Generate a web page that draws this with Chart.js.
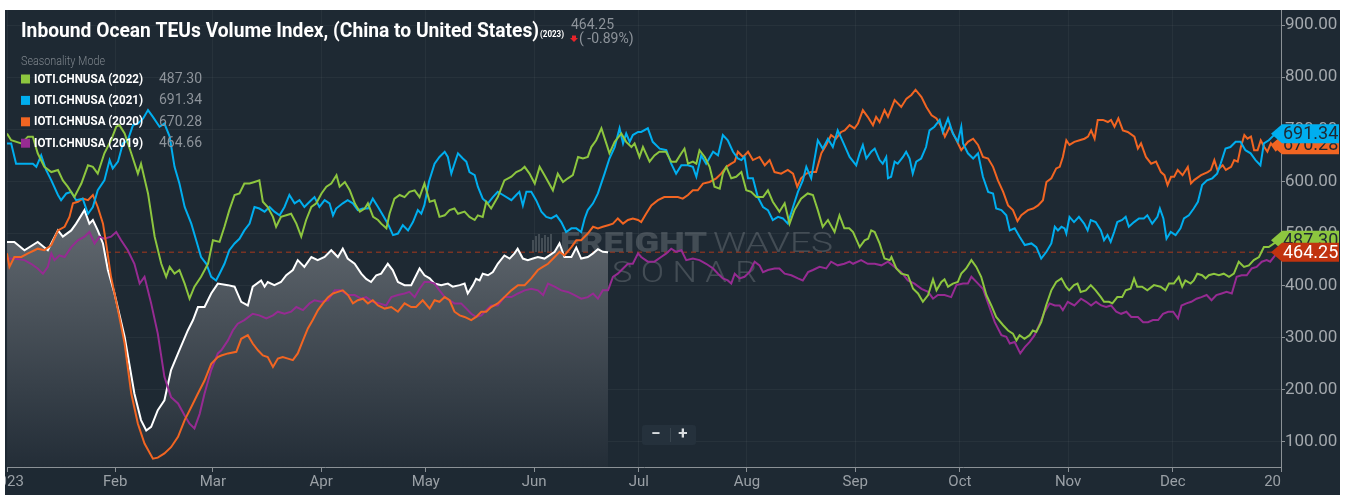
<!DOCTYPE html>
<html>
<head>
<meta charset="utf-8">
<script src="https://cdn.jsdelivr.net/npm/chart.js@4.4.0/dist/chart.umd.min.js"></script>
<style>
html,body{margin:0;padding:0;background:#fff;}
#box{position:absolute;left:5px;top:10px;width:1335px;height:485px;background:#1e2933;}
</style>
</head>
<body>
<div id="box"><canvas id="chart"></canvas></div>
<script>
// day of year (0 = Jan 1) and index value
const monthTicks = [0,31,59,90,120,151,181,212,243,273,304,334,365];
const monthLabels = ['2023','Feb','Mar','Apr','May','Jun','Jul','Aug','Sep','Oct','Nov','Dec','2024'];
const yTicks = [100,200,300,400,500,600,700,800,900];
const seriesNames = ['IOTI.CHNUSA (2022)','IOTI.CHNUSA (2021)','IOTI.CHNUSA (2020)','IOTI.CHNUSA (2019)'];
const changePct = -0.89;

const series2023 = [[0,484],[2.1,484],[5,468],[8.8,484],[11.7,468],[14.6,506],[16,494],[18.4,506],[19.8,519],[22.2,545],[23.6,519],[24.6,526],[26,506],[27.5,481],[28.9,430],[30.8,385],[33.7,302],[36.5,193],[38.4,142],[39.9,122],[41.3,129],[43.2,161],[45.1,180],[47,238],[49,270],[51.8,314],[53.3,334],[54.7,359],[56.6,359],[58.5,385],[60.4,404],[63.3,401],[65.2,398],[67.1,369],[69,362],[70.4,398],[72.8,410],[73.8,398],[74.7,407],[76.6,401],[78.5,407],[80,420],[81.9,430],[83.3,449],[85.2,436],[87.2,455],[89,449],[91,455],[92.9,468],[94.8,455],[96.2,471],[97.6,452],[99.6,442],[101.5,423],[102.9,413],[104.3,407],[105.8,420],[107.2,423],[109.1,442],[110.5,430],[112,407],[113.9,401],[115.8,401],[118.2,433],[119.6,420],[121.1,414],[122.5,404],[124.4,401],[126.3,404],[127.7,398],[129.7,401],[131.1,404],[132,385],[133.5,401],[134.4,413],[135.4,410],[136.3,423],[137.8,420],[139.2,426],[140.6,442],[142.5,458],[144,452],[145.4,462],[146.3,471],[147.8,452],[149.2,449],[150.7,452],[152.1,455],[154,452],[155.4,458],[156.9,465],[158.3,481],[159.7,455],[161.7,455],[163.1,473],[164.5,452],[166.4,455],[167.9,462],[169.3,470],[170.7,465],[172.2,464.25]];

const series2022 = [[0,692],[1.2,679],[4.1,673],[6,686],[7.4,686],[8.8,654],[10.7,628],[12.7,618],[14.6,622],[16,602],[17.4,590],[19.3,570],[21.3,596],[23.2,631],[24.6,628],[26,615],[27.9,654],[29.8,679],[31.3,705],[32.2,708],[33.7,692],[35.6,654],[37.5,615],[38.4,634],[40.4,577],[42.3,494],[44.2,442],[45.6,417],[46.6,436],[48,423],[49.4,430],[50.9,404],[52.3,375],[53.7,398],[55.6,417],[57.6,442],[59,487],[60.9,484],[62.3,513],[63.7,545],[65.2,574],[66.6,577],[68,596],[69.5,596],[70.9,599],[72.3,602],[73.3,561],[74.7,551],[76.2,532],[77.1,513],[78.5,532],[80,535],[81.4,538],[82.9,519],[84.3,494],[85.7,526],[87.2,551],[88.6,558],[90.1,577],[91.5,590],[92.9,596],[94.4,612],[95.3,590],[96.8,599],[98.2,583],[99.7,557],[101.1,542],[102.5,548],[103.4,558],[104.9,532],[106.3,526],[107.2,519],[108.7,510],[109.6,538],[111,567],[112.5,574],[113.9,570],[115.3,580],[116.8,583],[118.2,570],[119.6,596],[121.1,561],[122.5,564],[123.9,532],[125.4,535],[126.8,545],[128.2,548],[129.2,538],[131.1,542],[132.5,532],[134,526],[134.9,535],[136.3,532],[137.3,561],[138.7,548],[140.6,570],[142.5,602],[144.5,609],[145.9,618],[147.3,622],[148.3,628],[149.7,615],[151.2,596],[152.6,628],[154,612],[156.4,583],[157.8,615],[159.3,599],[160.7,606],[162.1,612],[163.6,647],[165,644],[166.4,647],[167.4,666],[168.8,679],[170.3,702],[171.7,673],[172.6,654],[174.1,676],[176,692],[177.4,676],[178.9,666],[179.8,673],[181.2,647],[182.2,666],[184.1,638],[185.5,650],[186.9,657],[188.8,657],[190.3,638],[191.7,638],[193.2,654],[194.1,663],[195.1,634],[196.5,638],[197.5,634],[198.4,660],[199.9,647],[201.3,628],[202.7,590],[204.2,586],[205.1,615],[206.1,628],[207.5,606],[208.9,609],[210.4,618],[211.8,583],[213.2,580],[214.7,570],[216.6,570],[218,583],[219.4,561],[221.3,542],[222.8,558],[224.2,519],[225.6,545],[227.5,567],[229.4,577],[230.9,574],[232.3,545],[233.7,513],[235.2,526],[237.1,503],[238.5,535],[239.9,510],[241.3,510],[242.4,503],[244.3,474],[245.7,487],[246.7,490],[247.6,506],[248.6,503],[250,481],[251.4,452],[252.9,449],[253.4,455],[254.8,433],[256.2,423],[258.1,420],[259.6,394],[261,385],[262.4,369],[263.9,382],[265.3,412],[266.3,391],[267.7,407],[268.6,412],[269.6,398],[271,404],[272.4,407],[273.4,423],[274.8,433],[276.3,449],[277.7,436],[279.1,417],[280.6,382],[282,362],[283.4,340],[285.4,324],[286.8,314],[288.2,308],[289.2,295],[290.1,305],[291.5,298],[293,305],[293.9,314],[294.9,311],[296.3,330],[297.7,362],[299.2,391],[300.6,407],[302.1,414],[303.4,398],[304.3,391],[305.7,401],[306.7,404],[307.6,388],[309.1,391],[310.5,401],[311.9,391],[313.4,378],[314.3,369],[315.7,369],[316.7,366],[318.1,378],[319.5,378],[320.5,391],[321.9,394],[322.9,414],[323.8,398],[325.2,398],[326.7,391],[328.6,401],[330.5,398],[331.9,391],[332.9,404],[334.3,404],[335.7,417],[336.7,398],[337.6,410],[339.1,404],[340,410],[341,423],[342.4,420],[343.4,414],[344.3,420],[345.8,423],[347.2,420],[348.6,423],[350.1,417],[351.5,423],[352.9,446],[354.4,436],[355.8,439],[357.2,449],[358.7,455],[360.1,474],[361.5,474],[363,481],[365,487.30]];

const series2021 = [[0,673],[1.2,673],[2.6,634],[5,634],[7.4,634],[8.4,628],[9.8,650],[11.2,622],[12.7,602],[14.6,574],[15.5,564],[17,577],[18.4,580],[19.8,564],[21.7,567],[23.2,538],[24.6,551],[26,583],[27.9,602],[29.4,641],[30.3,625],[31.8,638],[33.2,673],[34.6,679],[36.1,708],[37.5,711],[39,721],[40.4,737],[41.8,724],[43.7,705],[45.1,711],[46.6,686],[48,628],[49.4,596],[50.9,551],[52.8,519],[54.2,487],[55.6,455],[57.1,442],[58.5,417],[59.9,410],[60.9,423],[62.3,442],[63.7,468],[65.2,481],[66.6,490],[68,506],[69.5,519],[70.9,551],[72.3,548],[73.8,542],[75.2,551],[76.6,542],[78.1,535],[79.5,551],[80.9,574],[82.4,558],[83.8,564],[85.2,551],[86.7,561],[88.1,570],[89.5,551],[91,564],[92.4,558],[93.4,535],[94.3,548],[96.2,558],[97.6,564],[99.1,558],[100.5,545],[101.9,548],[103.4,548],[104.8,567],[106.3,551],[107.7,535],[109.1,519],[110.6,497],[112,500],[113.4,516],[114.9,506],[116.3,522],[117.7,545],[118.7,538],[119.6,555],[120.9,600],[122.5,634],[123.9,647],[125.4,657],[126.3,647],[127.3,615],[128.2,634],[129.2,654],[130.6,644],[131.6,638],[132.5,618],[134,612],[134.9,590],[136.3,567],[137.8,558],[139.2,570],[140.6,580],[142.1,574],[144.5,564],[145.9,574],[146.8,580],[147.8,554],[148.8,580],[150.2,580],[151.6,564],[153.1,542],[154.5,532],[155.9,529],[157.4,535],[158.8,522],[160.2,503],[161.7,510],[163.1,510],[164.5,503],[165.5,529],[166.4,545],[167.9,558],[169.3,577],[171.2,615],[172.6,644],[174.1,666],[175.5,702],[176.5,673],[177.4,692],[178.4,676],[179.3,689],[180.8,695],[181.7,695],[183.6,702],[185,676],[187,663],[188.9,660],[190.3,634],[191.7,615],[193.2,631],[195.1,631],[196.5,628],[197.5,609],[198.9,650],[200.3,634],[202.3,657],[203.7,650],[205.1,689],[206.5,679],[208,657],[209.4,644],[210.4,641],[211.3,647],[212.3,606],[213.7,606],[215.1,570],[216.6,551],[218,545],[219.4,526],[220.9,532],[222.3,529],[223.7,519],[225.2,551],[226.6,580],[228,602],[229,628],[230.4,606],[232.3,679],[233.7,663],[235.2,682],[236.6,666],[238,698],[239.5,676],[241.4,647],[243.3,631],[244.3,654],[245.2,670],[246.2,644],[247.6,657],[248.6,663],[250,641],[250.9,634],[251.9,647],[252.4,606],[253.3,609],[254.3,638],[255.2,634],[256.7,647],[257.6,657],[258.6,644],[259.5,615],[260.5,638],[261.9,644],[263.3,666],[264.3,698],[265.7,705],[267.2,718],[268.1,695],[269.6,721],[271,692],[272.4,676],[273.4,705],[273.9,673],[275.3,654],[276.8,644],[278.2,654],[279.6,609],[281.1,580],[282.5,577],[283.4,548],[284.9,545],[286.3,535],[287.3,506],[288.7,510],[290.1,494],[291.6,478],[293.5,481],[294.9,474],[296.3,452],[297.8,465],[299.2,481],[300.2,513],[301.1,506],[302.1,513],[303,510],[303.5,500],[304.4,532],[305.7,522],[307.1,532],[308.6,519],[309.6,506],[310.5,526],[311.9,522],[313.4,506],[314.3,487],[315.3,497],[316.2,484],[317.2,503],[318.1,522],[319.5,526],[320.5,532],[321.4,513],[322.9,522],[324.3,529],[325.7,529],[326.7,535],[328.1,519],[329.6,532],[330.3,548],[331.3,529],[332.2,490],[333.4,503],[334.8,497],[336.2,510],[337.2,529],[338.6,535],[340,548],[341.2,561],[342.4,593],[343.8,602],[345.3,606],[346.7,615],[347.7,634],[349.1,663],[350.5,666],[352,676],[353.4,676],[354.8,660],[356.3,654],[357.7,641],[359.1,631],[360.1,673],[361.5,679],[363,689],[365,691.34]];

const series2020 = [[0,462],[0.7,436],[2.1,455],[4.1,455],[6,462],[7.9,468],[8.8,471],[10.7,468],[12.7,478],[14.6,506],[16.5,513],[17.9,532],[18.9,558],[20.3,561],[21.7,567],[23.2,564],[24.6,574],[26,551],[27.5,519],[28.4,481],[29.8,417],[31.8,353],[33.7,289],[35.6,193],[37.5,135],[39.4,97],[41.8,68],[43.2,70],[45.1,78],[47,90],[49,110],[50.9,142],[52.8,167],[54.7,193],[56.6,218],[58.5,250],[60.4,263],[61.4,266],[63.3,270],[65.7,273],[67.1,298],[69,305],[70.4,289],[71.9,276],[73.3,266],[74.7,263],[76.2,244],[77.6,260],[79,263],[80.5,260],[81.9,257],[83.3,270],[84.8,295],[86.2,318],[87.6,334],[89.1,353],[90.5,366],[92,378],[93.4,385],[94.8,388],[96.2,391],[97.7,382],[99.1,366],[100.5,372],[102,375],[103.4,366],[104.8,372],[106.3,362],[108.2,356],[110.1,359],[112,350],[113.9,366],[115.8,359],[117.2,359],[119.1,372],[121.1,356],[122.5,372],[123.9,369],[125.4,378],[126.8,372],[128.2,350],[129.7,343],[131.1,340],[133,334],[134.4,340],[135.9,350],[137.3,350],[138.7,359],[140.6,366],[142.5,378],[144.5,391],[146.4,401],[148.3,401],[150.2,414],[152.1,430],[153.5,436],[155,442],[156.9,455],[158.3,465],[159.7,458],[161.7,474],[163.1,487],[164.5,487],[166.4,500],[167.9,513],[169.3,510],[170.7,513],[172.2,516],[173.6,519],[175,529],[176.5,519],[177.9,526],[179.3,529],[180.8,526],[181.7,522],[183.1,538],[184.6,554],[186.5,564],[188.3,570],[190.3,570],[192.2,570],[193.6,567],[195.1,574],[196.5,583],[197.9,583],[199.4,596],[201.3,599],[203.2,606],[204.6,615],[206.1,628],[207.5,634],[208.5,638],[209.4,657],[210.9,647],[212.3,657],[213.7,641],[215.6,647],[217.1,631],[218.5,641],[219.9,618],[221.8,615],[223.7,622],[225.2,615],[226.4,590],[227.5,606],[229,615],[230.4,618],[231.8,618],[233.3,654],[234.7,670],[236.1,689],[237.5,682],[239,695],[240,698],[241.4,708],[242.8,702],[243.8,711],[245.2,737],[246.6,724],[248.1,708],[249,724],[250,714],[251.4,737],[252.4,724],[254.3,756],[256.2,743],[257.7,759],[259.1,766],[260.3,776],[262,762],[263.4,743],[264.9,727],[266.3,721],[267.7,705],[268.7,686],[270.1,705],[271.5,686],[273.4,660],[275.3,676],[276.8,682],[278.2,670],[279.6,647],[281.1,644],[282.5,628],[283.9,602],[285.4,580],[286.8,554],[288.2,545],[289.5,524],[290.6,535],[292.5,545],[294,548],[295.4,554],[296.8,564],[297.8,599],[299.2,606],[300.6,625],[301.6,628],[302.5,647],[303.5,679],[304.4,670],[305.8,676],[307.3,679],[308.7,682],[309.7,686],[310.6,698],[311.6,682],[312.5,718],[314,718],[315.4,714],[316.3,718],[317.3,705],[318.4,721],[319.7,698],[321.1,695],[323,686],[324,663],[324.9,673],[326.3,647],[327.8,634],[329.2,638],[330.6,618],[331.6,612],[332.5,593],[333.5,609],[334.4,609],[335.4,622],[336.8,612],[338.3,628],[339.2,596],[340.2,603],[342.1,612],[344,618],[344.9,622],[345.9,641],[346.8,622],[348.3,631],[349.2,622],[350.7,628],[351.6,641],[352.6,638],[353.5,666],[354.5,689],[355.4,682],[356.4,686],[357.3,660],[358.3,660],[359.2,679],[360.2,666],[361.1,657],[362.1,673],[363.5,660],[365,670.28]];

const series2019 = [[0,452],[2.1,452],[5,449],[6.9,442],[8.8,433],[10.3,423],[11.7,436],[12.7,462],[13.6,449],[15,458],[16.5,455],[18.4,474],[20.3,487],[22.2,494],[23.6,503],[25.1,481],[26.5,494],[27.9,490],[29.8,494],[31.3,503],[32.7,487],[34.6,468],[36.5,442],[38,404],[39.4,417],[41.3,366],[43.2,308],[45.1,225],[47,186],[49,174],[50.9,151],[52.3,135],[53.7,126],[55.2,154],[56.6,193],[58.5,238],[60.4,270],[61.4,276],[63.3,295],[64.7,314],[66.1,327],[68,334],[70.4,346],[72.3,343],[74.3,337],[76.2,343],[77.6,350],[79.5,346],[81.4,350],[82.9,359],[84.8,353],[86.7,366],[88.1,372],[90,369],[92,372],[93.9,391],[95.7,391],[97.6,382],[99.6,382],[101.5,375],[102.9,378],[104.8,369],[106.7,366],[108.6,362],[110.1,378],[112,382],[113.9,385],[115.3,388],[116.8,378],[118.2,394],[119.6,407],[121.1,407],[122.5,404],[123.9,391],[125.4,378],[126.8,372],[128.2,366],[130.1,366],[131.6,356],[133,346],[134.4,340],[135.9,343],[137.3,353],[138.7,362],[140.6,362],[142.5,378],[144.5,378],[146.4,385],[148.3,391],[150.2,394],[152.1,391],[153.6,382],[155,404],[156.9,398],[158.8,391],[160.7,388],[162.6,382],[164.5,375],[166.4,378],[167.9,385],[169.3,375],[170.7,391],[172.2,391],[173.6,417],[175,423],[176.5,433],[177.9,442],[179.3,442],[180.8,462],[181.7,455],[183.6,446],[185.5,446],[187.4,455],[188.9,462],[190.3,471],[191.7,465],[193.2,468],[194.6,449],[196.5,452],[198.4,449],[200.3,442],[202.3,433],[203.7,423],[205.1,414],[206.5,410],[207.5,404],[208.5,423],[209.9,414],[211.3,417],[212.7,426],[214.2,446],[215.6,439],[216.6,426],[218,430],[219.9,433],[221.3,433],[222.8,423],[224.7,420],[226.6,414],[228,410],[229.5,426],[230.9,430],[232.8,436],[234.7,433],[236.1,446],[238,439],[239.9,442],[241.4,446],[242.4,442],[244.7,449],[246.6,442],[248.6,442],[250.5,439],[252.4,446],[254.3,436],[256.2,426],[258.1,410],[260,404],[262,394],[263.9,388],[265.3,375],[266.7,382],[268.6,382],[270.5,378],[272,401],[273.9,404],[275.3,404],[276.3,417],[278.2,404],[279.6,394],[281.1,366],[283,330],[284.9,305],[286.3,302],[287.3,289],[288.7,292],[290.3,270],[291.6,282],[293,292],[294.4,305],[295.9,327],[297.3,350],[298.7,366],[300.2,362],[301.6,362],[302.5,353],[303.9,369],[305.8,362],[307.7,375],[309.2,369],[310.6,362],[312,369],[313.5,362],[314.9,359],[316.3,362],[317.8,350],[319.2,346],[320.7,350],[322.1,340],[324,340],[325.5,330],[326.9,330],[328.3,334],[329.8,334],[331.2,346],[332.7,350],[334.1,350],[335.5,337],[336.5,362],[337.9,366],[339.3,369],[340.8,375],[342.2,378],[343.7,382],[345.1,372],[346.5,382],[348,385],[349.4,388],[350.9,385],[352.3,417],[353.7,420],[355.2,420],[356.6,433],[358,436],[359.5,446],[360.9,449],[361.9,446],[363.3,458],[365,464.66]];

const GREEN = '#8dc63f', BLUE = '#00aeef', ORANGE = '#f26522', PURPLE = '#962b92', TAGRED = '#c1330f';
const BG = '#1e2933';

const toXY = s => s.map(p => ({x: p[0], y: p[1]}));
const lastOf = s => s[s.length - 1][1];

function fitText(ctx, text, x, y, w){
    const m = ctx.measureText(text).width;
    ctx.save();
    ctx.translate(x, y);
    ctx.scale(w / m, 1);
    ctx.fillText(text, 0, 0);
    ctx.restore();
}

const decor = {
    id: 'decor',
    beforeDatasetsDraw(chart){
        const ctx = chart.ctx, a = chart.chartArea, ys = chart.scales.y;
        ctx.save();
        // watermark
        ctx.fillStyle = 'rgba(255,255,255,0.17)';
        [[0,6],[3,2],[6,0],[9,4],[12,1],[15,3],[18,0]].forEach(b => ctx.fillRect(527 + b[0], 224 + b[1], 2, 18 - b[1]));
        ctx.textBaseline = 'alphabetic'; ctx.textAlign = 'left';
        ctx.font = '900 27px Roboto';
        fitText(ctx, 'FREIGHT', 555, 242, 147);
        ctx.font = '300 27px Roboto';
        fitText(ctx, 'WAVES', 708, 242, 120);
        ctx.font = '300 29px Roboto';
        fitText(ctx, 'S O N A R', 607, 272, 145);
        // current value line
        const y = ys.getPixelForValue(lastOf(series2023));
        ctx.strokeStyle = '#a8391d'; ctx.lineWidth = 1; ctx.setLineDash([5,4]);
        ctx.beginPath(); ctx.moveTo(a.left, y); ctx.lineTo(a.right, y); ctx.stroke();
        ctx.restore();
    },
    afterDraw(chart){
        const ctx = chart.ctx, a = chart.chartArea, xs = chart.scales.x, ys = chart.scales.y;
        ctx.save();
        // x labels, clipped at the axis end
        ctx.save();
        ctx.beginPath(); ctx.rect(0, a.bottom, a.right, chart.height - a.bottom); ctx.clip();
        ctx.font = '15px Roboto'; ctx.fillStyle = '#9aa0a6';
        ctx.textAlign = 'center'; ctx.textBaseline = 'middle';
        monthTicks.forEach((t, i) => ctx.fillText(monthLabels[i], xs.getPixelForValue(t), a.bottom + 15));
        ctx.restore();

        // title block
        ctx.textAlign = 'left'; ctx.textBaseline = 'alphabetic';
        ctx.fillStyle = '#ffffff';
        ctx.font = 'bold 20px Roboto';
        fitText(ctx, 'Inbound Ocean TEUs Volume Index, (China to United States)', 16, 27, 518);
        ctx.font = 'bold 9px Roboto';
        fitText(ctx, '(2023)', 535, 27, 24);
        ctx.fillStyle = '#8d939a';
        ctx.font = '14px Roboto';
        ctx.fillText(lastOf(series2023).toFixed(2), 566, 19);
        ctx.fillText('( ' + changePct.toFixed(2) + '%)', 574, 33);
        ctx.fillStyle = '#e8242b';
        ctx.beginPath(); ctx.moveTo(567, 25.5); ctx.lineTo(571, 25.5); ctx.lineTo(571, 28); ctx.lineTo(573, 28);
        ctx.lineTo(569, 32); ctx.lineTo(565, 28); ctx.lineTo(567, 28); ctx.closePath(); ctx.fill();

        // legend
        ctx.fillStyle = '#7f868d';
        ctx.font = '300 12px Roboto';
        fitText(ctx, 'Seasonality Mode', 16, 55, 84);
        const legend = [[series2022, GREEN], [series2021, BLUE], [series2020, ORANGE], [series2019, PURPLE]];
        ctx.textBaseline = 'middle';
        legend.forEach((row, i) => {
            const cy = 69 + i * 21.4;
            ctx.fillStyle = row[1];
            ctx.fillRect(16, cy - 4.5, 9, 9);
            ctx.fillStyle = '#ffffff';
            ctx.font = 'bold 12px Roboto';
            fitText(ctx, seriesNames[i], 29, cy + 0.5, 109);
            ctx.fillStyle = '#8d939a';
            ctx.font = '14px Roboto';
            ctx.fillText(lastOf(row[0]).toFixed(2), 154, cy + 0.5);
        });

        // last value tags on the axis
        const tags = [[series2020, ORANGE, BG], [series2021, BLUE, BG], [series2022, GREEN, BG], [series2023, TAGRED, '#ffffff']];
        tags.forEach(t => {
            const v = lastOf(t[0]), y = ys.getPixelForValue(v);
            const x0 = a.right - 10, x1 = a.right + 1, x2 = chart.width - 1, h = 9.5;
            ctx.fillStyle = t[1];
            ctx.beginPath();
            ctx.moveTo(x0, y); ctx.lineTo(x1, y - h); ctx.lineTo(x2, y - h);
            ctx.lineTo(x2, y + h); ctx.lineTo(x1, y + h); ctx.closePath(); ctx.fill();
            ctx.fillStyle = t[2];
            ctx.font = '18px Roboto'; ctx.textAlign = 'left'; ctx.textBaseline = 'middle';
            ctx.fillText(v.toFixed(2), a.right + 2, y + 1);
        });

        // zoom buttons
        ctx.fillStyle = '#25313c';
        ctx.beginPath(); ctx.roundRect(637, 415, 54, 20, 3); ctx.fill();
        ctx.strokeStyle = '#3a4650'; ctx.lineWidth = 1;
        ctx.beginPath(); ctx.moveTo(665.5, 418); ctx.lineTo(665.5, 432); ctx.stroke();
        ctx.fillStyle = '#d8dcdf'; ctx.font = 'bold 17px Roboto'; ctx.textAlign = 'center'; ctx.textBaseline = 'middle';
        ctx.fillText('\u2212', 651, 425);
        ctx.fillText('+', 678, 425);
        ctx.restore();
    }
};

function fill2023(c){
    const ch = c.chart, a = ch.chartArea;
    if(!a) return 'rgba(0,0,0,0)';
    const g = ch.ctx.createLinearGradient(0, ch.scales.y.getPixelForValue(500), 0, a.bottom);
    g.addColorStop(0, '#5e656c');
    g.addColorStop(1, '#232d37');
    return g;
}

const line = (label, s, color) => ({label, data: toXY(s), borderColor: color, borderWidth: 2, pointRadius: 0, fill: false, tension: 0});

new Chart(document.getElementById('chart'), {
    type: 'line',
    data: {
        datasets: [
            line(seriesNames[0], series2022, GREEN),
            line(seriesNames[1], series2021, BLUE),
            line(seriesNames[2], series2020, ORANGE),
            line(seriesNames[3], series2019, PURPLE),
            {label: 'IOTI.CHNUSA (2023)', data: toXY(series2023), borderColor: '#ffffff', borderWidth: 2, pointRadius: 0, tension: 0, fill: 'start', backgroundColor: fill2023}
        ]
    },
    options: {
        responsive: true,
        maintainAspectRatio: false,
        animation: false,
        events: [],
        layout: {padding: {left: 2, top: 0, right: 0, bottom: 0}},
        plugins: {legend: {display: false}, tooltip: {enabled: false}},
        scales: {
            x: {
                type: 'linear', min: 0, max: 365,
                afterBuildTicks: s => { s.ticks = monthTicks.map(v => ({value: v})); },
                afterFit: s => { s.height = 28; s.paddingLeft = 0; s.paddingRight = 0; },
                ticks: {display: false},
                grid: {color: 'rgba(255,255,255,0.045)', tickColor: '#8b9196', tickLength: 5},
                border: {color: '#8b9196', width: 1}
            },
            y: {
                position: 'right', min: 52, max: 929,
                afterBuildTicks: s => { s.ticks = yTicks.map(v => ({value: v})); },
                afterFit: s => { s.width = 59; s.paddingTop = 0; s.paddingBottom = 0; },
                ticks: {color: '#a3a8ad', font: {family: 'Roboto', size: 17}, padding: 0, callback: v => v.toFixed(2)},
                grid: {color: 'rgba(255,255,255,0.045)', tickColor: '#8b9196', tickLength: 4},
                border: {color: '#8b9196', width: 1}
            }
        }
    },
    plugins: [decor]
});
</script>
</body>
</html>
